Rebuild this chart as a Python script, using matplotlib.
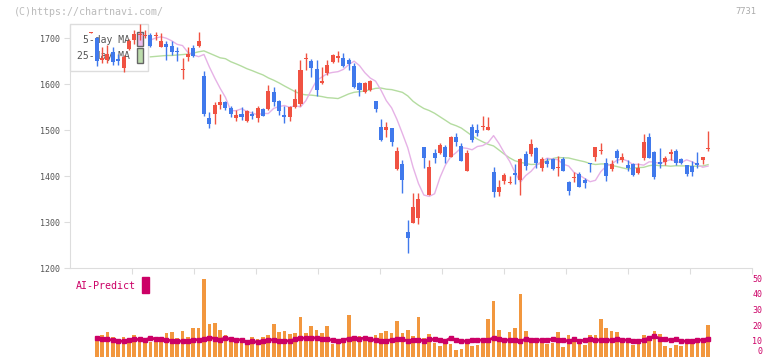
"""
Daily candle chart for 7731 with 5/25-day MA and the AI-Predict panel
"""

            #################
            #### IMPORTS ####

import numpy as np
import pandas as pd
import matplotlib
matplotlib.use("Agg")
import matplotlib.pyplot as plt
import matplotlib.transforms as mtrans
from matplotlib.patches import Rectangle

            ##############
            #### DATA ####

# OHLC per trading day (first entry is the half visible day at the left edge)
opens = [1711, 1699, 1653, 1653, 1669, 1654, 1635, 1676, 1696, 1707, 1705,
         1706, 1704, 1681, 1687, 1682, 1671, 1630, 1659, 1679, 1683,
         1617, 1526, 1534, 1555, 1561, 1548, 1526, 1534, 1519, 1535,
         1526, 1546, 1545, 1582, 1562, 1533, 1528, 1550, 1556, 1654,
         1650, 1632, 1603, 1623, 1648, 1657, 1657, 1652, 1640, 1602,
         1582, 1588, 1562, 1507, 1500, 1504, 1416, 1426, 1278, 1298,
         1309, 1462, 1359, 1449, 1449, 1464, 1442, 1484, 1466, 1411,
         1506, 1499, 1506, 1501, 1408, 1366, 1389, 1384, 1407, 1391,
         1448, 1448, 1460, 1418, 1433, 1437, 1418, 1438, 1387, 1395,
         1405, 1391, 1428, 1442, 1455, 1428, 1415, 1455, 1435, 1424,
         1427, 1407, 1440, 1484, 1453, 1431, 1431, 1448, 1455, 1437,
         1424, 1422, 1428, 1434, 1459]
highs = [1713, 1703, 1681, 1685, 1680, 1666, 1662, 1698, 1718, 1730, 1717,
         1710, 1712, 1710, 1694, 1694, 1681, 1656, 1681, 1685, 1712,
         1629, 1540, 1561, 1579, 1564, 1553, 1544, 1551, 1544, 1542,
         1553, 1548, 1597, 1594, 1566, 1553, 1553, 1590, 1653, 1667,
         1654, 1652, 1636, 1653, 1666, 1672, 1667, 1657, 1645, 1604,
         1604, 1608, 1564, 1523, 1518, 1505, 1462, 1435, 1304, 1362,
         1364, 1464, 1435, 1458, 1471, 1468, 1488, 1493, 1471, 1456,
         1512, 1513, 1531, 1529, 1420, 1391, 1407, 1400, 1426, 1439,
         1455, 1480, 1462, 1442, 1440, 1439, 1444, 1442, 1389, 1408,
         1409, 1396, 1428, 1464, 1471, 1440, 1434, 1458, 1451, 1434,
         1429, 1429, 1491, 1494, 1455, 1460, 1444, 1459, 1458, 1440,
         1424, 1432, 1453, 1442, 1497]
lows = [1711, 1640, 1645, 1645, 1642, 1641, 1626, 1674, 1688, 1696, 1699,
        1681, 1696, 1680, 1653, 1663, 1650, 1610, 1650, 1659, 1680,
        1531, 1504, 1512, 1546, 1544, 1528, 1519, 1521, 1517, 1524,
        1517, 1530, 1544, 1553, 1533, 1515, 1519, 1548, 1553, 1630,
        1615, 1574, 1601, 1620, 1646, 1647, 1637, 1630, 1592, 1575,
        1580, 1584, 1539, 1477, 1484, 1466, 1414, 1362, 1232, 1298,
        1296, 1418, 1359, 1429, 1448, 1429, 1442, 1466, 1432, 1410,
        1473, 1486, 1499, 1499, 1354, 1356, 1382, 1382, 1382, 1359,
        1413, 1444, 1418, 1410, 1420, 1413, 1400, 1410, 1359, 1388,
        1376, 1373, 1409, 1433, 1448, 1389, 1410, 1429, 1431, 1411,
        1400, 1404, 1434, 1439, 1394, 1418, 1424, 1434, 1423, 1426,
        1399, 1400, 1418, 1427, 1455]
closes = [1713, 1650, 1657, 1666, 1648, 1651, 1659, 1693, 1709, 1709, 1707,
          1682, 1706, 1693, 1681, 1669, 1669, 1632, 1666, 1661, 1693,
          1534, 1512, 1555, 1561, 1548, 1534, 1532, 1528, 1541, 1531,
          1548, 1531, 1584, 1561, 1542, 1528, 1551, 1568, 1630, 1655,
          1635, 1588, 1606, 1642, 1663, 1660, 1640, 1643, 1594, 1586,
          1602, 1606, 1546, 1479, 1507, 1475, 1455, 1391, 1265, 1332,
          1350, 1440, 1420, 1440, 1467, 1442, 1484, 1475, 1433, 1451,
          1478, 1494, 1509, 1507, 1366, 1376, 1402, 1388, 1402, 1437,
          1422, 1469, 1429, 1437, 1427, 1415, 1419, 1411, 1367, 1398,
          1377, 1385, 1426, 1462, 1456, 1400, 1427, 1439, 1441, 1418,
          1402, 1418, 1475, 1440, 1398, 1426, 1440, 1453, 1429, 1428,
          1405, 1409, 1424, 1442, 1460]

# 25-day MA where the chart has no earlier closes
ma25_early = [1659, 1660, 1661, 1662, 1662, 1663, 1664, 1665, 1667, 1670,
              1672, 1667, 1662, 1657]

# volume bars, scaled to the 0-50 panel axis
volume = [np.nan, 12.6, 13.6, 15.7, 12.6, 9.4, 12.6, 10.5, 13.6, 9.2, 9.4,
          9.4, 10.5, 11.1, 14.9, 15.9, 11.7, 16.3, 12.6, 18.0, 18.0,
          49.4, 20.5, 21.1, 17.0, 13.6, 11.5, 8.6, 11.1, 10.7, 12.6,
          11.5, 12.6, 13.6, 20.5, 15.7, 16.3, 14.2, 15.3, 25.3, 14.9,
          19.5, 17.0, 14.9, 19.5, 7.9, 7.9, 12.1, 26.8, 12.1, 12.8,
          11.1, 11.1, 13.6, 14.9, 16.3, 14.9, 23.0, 14.9, 16.8, 13.2,
          25.3, 12.1, 14.2, 8.6, 6.5, 7.9, 7.9, 4.2, 4.8, 9.0,
          6.5, 7.3, 11.1, 23.7, 35.8, 16.8, 11.1, 15.7, 18.4, 40.0,
          16.3, 12.1, 12.1, 10.0, 7.9, 8.6, 15.7, 6.3, 13.6, 10.5,
          7.9, 7.3, 13.6, 13.6, 23.7, 18.0, 16.3, 15.7, 11.1, 10.0,
          7.3, 10.0, 13.6, 12.1, 16.3, 14.2, 6.5, 5.2, 7.3, 6.5,
          7.9, 10.0, 12.1, 10.0, 19.9]

# AI-Predict line
ai_predict = [np.nan, 11.7, 11.5, 10.9, 10.5, 9.8, 9.8, 10.5, 10.9, 10.9, 10.5,
              11.9, 11.1, 11.1, 10.5, 10.2, 9.8, 9.8, 9.8, 10.7, 10.7,
              11.1, 12.1, 11.5, 10.7, 11.9, 10.9, 10.7, 10.7, 9.2, 9.6,
              9.2, 10.2, 10.5, 10.7, 10.0, 10.2, 9.8, 11.1, 11.7, 11.7,
              11.7, 11.9, 11.1, 10.9, 10.5, 9.6, 10.5, 11.5, 11.9, 11.5,
              11.7, 10.9, 10.5, 10.0, 10.2, 10.5, 10.9, 10.9, 10.0, 10.5,
              10.7, 10.0, 10.9, 10.9, 10.5, 9.8, 11.9, 10.5, 9.8, 9.8,
              10.5, 10.5, 10.5, 10.5, 11.9, 10.9, 10.5, 10.5, 10.5, 9.8,
              11.1, 10.5, 10.5, 10.5, 10.5, 11.1, 10.5, 10.5, 9.8, 10.9,
              9.8, 10.5, 11.1, 10.5, 10.5, 10.5, 10.5, 11.1, 10.5, 10.5,
              9.8, 9.8, 10.5, 11.9, 12.8, 11.5, 11.1, 10.5, 11.1, 9.8,
              9.8, 9.8, 10.5, 10.5, 11.5]

dates = ['1/30', '2/14', '3/3', '3/17', '4/1', '4/15', '4/30',
         '5/16', '5/30', '6/13', '6/27']
date_idx = [15, 25, 35, 45, 55, 65, 75, 85, 95, 105, 115]

            ##################
            #### SETTINGS ####

W, H = 772, 361                                 # output size in pixels
UP_COL = '#f05242'                              # rising candle
DN_COL = '#4079ec'                              # falling candle
GRID_COL = '#dddddd'
TXT_COL = '#555555'
AI_COL = '#cc0066'
MONO = 'DejaVu Sans Mono'
XLIM = (-3.98, 123.19)

def fx(px):
    """pixel x -> figure fraction"""
    return px / W

def fy(py):
    """pixel y (from top) -> figure fraction"""
    return 1 - py / H

            ######################
            #### CALCULATIONS ####

x = np.arange(len(closes))
o = np.array(opens, float)
c = np.array(closes, float)
s = pd.Series(c)
ma5 = s.rolling(5).mean().shift(1).to_numpy()
ma25 = s.rolling(25).mean().shift(1).to_numpy()
ma25[11:25] = ma25_early                        # no history before the chart
ma5[:10] = np.nan                               # hidden behind the legend anyway
ma25[:11] = np.nan

rising = c >= o
colors = np.where(rising, UP_COL, DN_COL)
body_lo = np.minimum(o, c)
body_h = np.maximum(np.abs(c - o), 1.8)        # keep dojis visible

            ##############
            #### PLOT ####

fig = plt.figure(figsize=(W / 100, H / 100), dpi=100)

            ### price panel ###
ax = fig.add_axes([fx(70), fy(268), fx(682), 244 / H])
ax.set_xlim(*XLIM)
ax.set_ylim(1200, 1200 + 244 / 0.46)

ax.plot(x, ma25, color='#b4dca0', lw=1, zorder=2)
ax.plot(x, ma5, color='#e6b2e6', lw=1, zorder=2)
ax.vlines(x, lows, highs, color=colors, lw=1, zorder=4, clip_on=False)
ax.bar(x, body_h, bottom=body_lo, width=0.75, color=colors,
       linewidth=0, zorder=5, clip_on=False)

for side in ['top', 'right']:
    ax.spines[side].set_visible(False)
for side in ['left', 'bottom']:
    ax.spines[side].set_color(GRID_COL)
ax.set_yticks(range(1200, 1701, 100))
ax.tick_params(axis='y', length=4.5, color=GRID_COL, pad=3,
               labelsize=6, labelcolor=TXT_COL)
for lab in ax.get_yticklabels():
    lab.set_family(MONO)
ax.set_xticks([XLIM[0] + k / 11 * (XLIM[1] - XLIM[0]) for k in range(1, 12)])
ax.set_xticklabels([])
ax.tick_params(axis='x', length=4.5, color=GRID_COL)

            ### legend box (drawn under the candles) ###
ax.add_patch(Rectangle((fx(70), fy(71)), fx(78), 47 / H, transform=fig.transFigure,
                       facecolor='white', edgecolor=GRID_COL, lw=1,
                       zorder=3, clip_on=False))
ax.text(fx(130), fy(40), '5-day MA', transform=fig.transFigure, ha='right',
        va='center', size=7, color=TXT_COL, family=MONO, zorder=3.5)
ax.text(fx(130), fy(56), '25-day MA', transform=fig.transFigure, ha='right',
        va='center', size=7, color=TXT_COL, family=MONO, zorder=3.5)
ax.add_patch(Rectangle((fx(137), fy(46)), fx(6), 14 / H, transform=fig.transFigure,
                       facecolor='#ecbcec', edgecolor='#666666', lw=1,
                       zorder=3.5, clip_on=False))
ax.add_patch(Rectangle((fx(137), fy(63)), fx(6), 15 / H, transform=fig.transFigure,
                       facecolor='#bcdcac', edgecolor='#666666', lw=1,
                       zorder=3.5, clip_on=False))

            ### date labels ###
tr = mtrans.blended_transform_factory(ax.transData, fig.transFigure)
for d, i in zip(dates, date_idx):
    ax.text(i, fy(282), d, transform=tr, ha='center', va='center',
            size=6, color=TXT_COL, family=MONO, clip_on=False)

            ### AI-Predict panel ###
ax2 = fig.add_axes([fx(70), fy(356.5), fx(682), 78.2 / H])
ax2.set_xlim(*XLIM)
ax2.set_ylim(0, 50)
ax2.bar(x, volume, width=0.68, color='#f2973e', linewidth=0, zorder=2)
ax2.plot(x, ai_predict, color=AI_COL, lw=2, marker='s', ms=2.2, zorder=3)
for side in ax2.spines:
    ax2.spines[side].set_visible(False)
ax2.set_xticks([])
ax2.yaxis.tick_right()
ax2.set_yticks(range(0, 51, 10))
ax2.tick_params(axis='y', length=0, pad=7.5, labelsize=6, labelcolor=AI_COL)
for lab in ax2.get_yticklabels():
    lab.set_family(MONO)
    lab.set_ha('right')
    lab.set_va('bottom' if lab.get_text() == '0' else 'center_baseline')

fig.text(fx(76), fy(286), 'AI-Predict', color=AI_COL, size=7.2,
         va='center', family=MONO)
fig.patches.append(Rectangle((fx(142), fy(293)), fx(7), 16 / H,
                             transform=fig.transFigure, color=AI_COL))

            ### header ###
fig.text(fx(14), fy(12), '(C)https://chartnavi.com/', color='#bbbbbb',
         size=7.2, va='center', family=MONO)
fig.text(fx(756), fy(12), '7731', color='#aaaaaa', size=6.3,
         va='center', ha='right', family=MONO)

fig.savefig('out.png', dpi=100)
plt.close(fig)
